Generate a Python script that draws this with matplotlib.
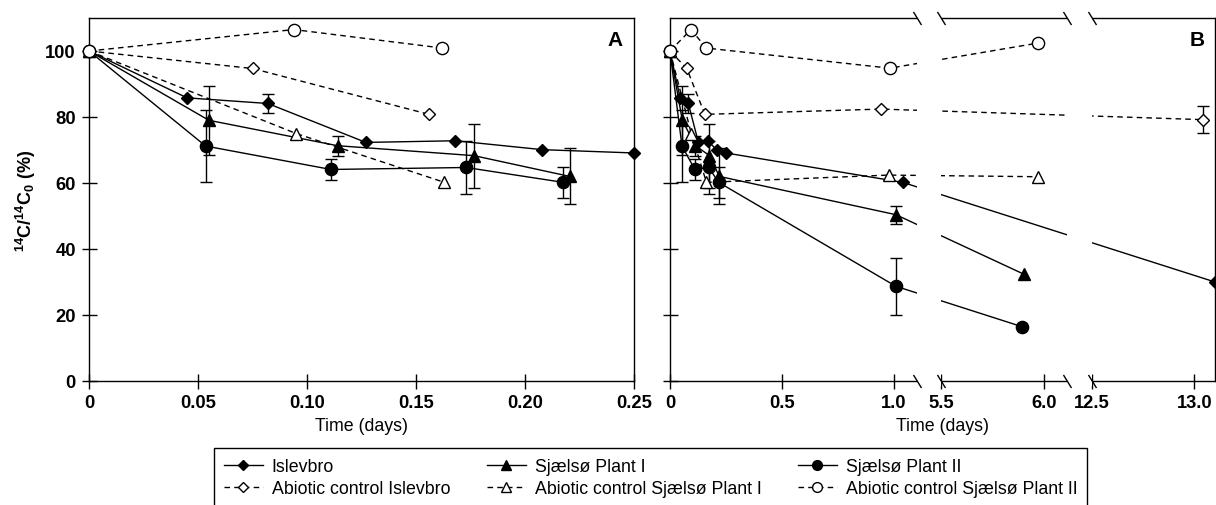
import numpy as np
import matplotlib
matplotlib.use("Agg")
import matplotlib.pyplot as plt
from matplotlib.patches import Rectangle

plt.rcParams['font.family'] = ['Liberation Sans', 'DejaVu Sans']
plt.rcParams['mathtext.fontset'] = 'custom'
plt.rcParams['mathtext.rm'] = 'Liberation Sans'
plt.rcParams['mathtext.bf'] = 'Liberation Sans:bold'

# time (days), 14C/14C0 (%), error (+/-)
isl_t = np.array([0, 0.045, 0.082, 0.127, 0.168, 0.208, 0.25, 1.04, 13.1])
isl_y = np.array([100, 85.8, 84.1, 72.3, 72.8, 70.1, 69.1, 60.2, 30.0])
isl_e = np.array([0, 0, 3.0, 0, 0, 0, 0, 0, 0])

p1_t = np.array([0, 0.055, 0.114, 0.1765, 0.2205, 1.01, 5.9])
p1_y = np.array([100, 79.0, 71.3, 68.3, 62.0, 50.4, 32.4])
p1_e = np.array([0, 10.5, 3.0, 9.7, 8.5, 2.7, 0])

p2_t = np.array([0, 0.0535, 0.111, 0.173, 0.2175, 1.01, 5.89])
p2_y = np.array([100, 71.2, 64.1, 64.7, 60.2, 28.7, 16.5])
p2_e = np.array([0, 11.0, 3.2, 8.0, 4.6, 8.7, 0])

ai_t = np.array([0, 0.075, 0.156, 0.943, 13.04])
ai_y = np.array([100, 94.7, 80.8, 82.4, 79.2])
ai_e = np.array([0, 0, 0, 0, 4.0])

a1_t = np.array([0, 0.095, 0.163, 0.977, 5.97])
a1_y = np.array([100, 75.0, 60.2, 62.4, 61.9])
a1_e = np.zeros(5)

a2_t = np.array([0, 0.094, 0.162, 0.982, 5.97])
a2_y = np.array([100, 106.5, 100.9, 94.8, 102.4])
a2_e = np.zeros(5)

labels = ["Islevbro", "Abiotic control Islevbro",
          "Sjælsø Plant I", "Abiotic control Sjælsø Plant I",
          "Sjælsø Plant II", "Abiotic control Sjælsø Plant II"]

series = [
    (isl_t, isl_y, isl_e, 'D', 'k', '-'),
    (ai_t, ai_y, ai_e, 'D', 'white', '--'),
    (p1_t, p1_y, p1_e, '^', 'k', '-'),
    (a1_t, a1_y, a1_e, '^', 'white', '--'),
    (p2_t, p2_y, p2_e, 'o', 'k', '-'),
    (a2_t, a2_y, a2_e, 'o', 'white', '--'),
]
msize = {'D': 6.6, '^': 8.8, 'o': 8.8}

# broken time axis for panel B
t_brk = [0, 1.105, 5.5, 6.11, 12.5, 13.1]
u_brk = [0, 246.7, 271, 396, 421, 544]


def fwd(t):
    return np.interp(t, t_brk, u_brk)


def inv(u):
    return np.interp(u, u_brk, t_brk)


fig = plt.figure(figsize=(12.16, 5.06), dpi=100)
W, H = 1216, 506
axA = fig.add_axes([89 / W, 1 - 382 / H, 545 / W, 363 / H])
axB = fig.add_axes([670 / W, 1 - 382 / H, 545 / W, 363 / H])


def draw(ax, tmax):
    handles = []
    for (t, y, e, m, fc, ls), lab in zip(series, labels):
        keep = t <= tmax
        tt, yy, ee = t[keep], y[keep], e[keep]
        h, = ax.plot(tt, yy, ls=ls, color='k', lw=1.0, dashes=(4, 3) if ls == '--' else (None, None),
                     marker=m, ms=msize[m], mfc=fc, mec='k', mew=1.0,
                     label=lab, clip_on=False, zorder=3)
        handles.append(h)
        has = ee > 0
        if has.any():
            ax.errorbar(tt[has], yy[has], yerr=ee[has], fmt='none', ecolor='k',
                        elinewidth=1.0, capsize=4.3, capthick=1.0, clip_on=False, zorder=2)
    return handles


handles = draw(axA, 0.25)
draw(axB, 14)

for ax in (axA, axB):
    ax.set_ylim(0, 110)
    ax.set_yticks([0, 20, 40, 60, 80, 100])
    ax.tick_params(direction='inout', length=10.8, width=1.0, pad=4, labelsize=13.2)
    for s in ax.spines.values():
        s.set_linewidth(1.0)
    ax.set_xlabel("Time (days)", fontsize=12.8, labelpad=4)

axA.set_xlim(0, 0.25)
axA.set_xticks([0, 0.05, 0.10, 0.15, 0.20, 0.25])
axA.set_xticklabels(['0', '0.05', '0.10', '0.15', '0.20', '0.25'], fontweight='bold')
axA.set_yticklabels(['0', '20', '40', '60', '80', '100'], fontweight='bold')
axA.set_ylabel(r'$\mathbf{^{14}}$C/$\mathbf{^{14}}$C$\mathbf{_0}$ (%)', fontsize=13,
               fontweight='bold', labelpad=5)
axA.text(0.965, 0.942, "A", transform=axA.transAxes, ha='center', va='center',
         fontsize=15, fontweight='bold')

axB.set_xscale('function', functions=(fwd, inv))
axB.set_xlim(0, 13.1)
axB.set_xticks([0, 0.5, 1.0, 5.5, 6.0, 12.5, 13.0])
axB.set_xticklabels(['0', '0.5', '1.0', '5.5', '6.0', '12.5', '13.0'], fontweight='bold')
axB.xaxis.set_minor_locator(plt.NullLocator())
axB.tick_params(axis='y', labelleft=False)
axB.text(0.967, 0.942, "B", transform=axB.transAxes, ha='center', va='center',
         fontsize=15, fontweight='bold')

# white out the gaps between segments and draw break marks
for a, b in [(t_brk[1], t_brk[2]), (t_brk[3], t_brk[4])]:
    axB.add_patch(Rectangle((a, -1.5), b - a, 113, transform=axB.transData,
                            fc='white', ec='none', zorder=6, clip_on=False))
brk_x = t_brk[1:5]
for yy in (0, 1):
    axB.plot(brk_x, [yy] * len(brk_x), transform=axB.get_xaxis_transform(),
             ls='none', marker=[(-4, 6.5), (4, -6.5)], ms=9.4, mew=1.0,
             color='k', clip_on=False, zorder=7)

fig.legend(handles, labels, ncol=3, loc='upper left',
           bbox_to_anchor=(214 / W, 1 - 449 / H), borderaxespad=0,
           fontsize=12.8, frameon=True, fancybox=False, edgecolor='k',
           framealpha=1, handlelength=2.2, handletextpad=0.5, markerscale=0.8,
           columnspacing=2.05, labelspacing=0.3, borderpad=0.55)

fig.savefig("out.png", dpi=100)
